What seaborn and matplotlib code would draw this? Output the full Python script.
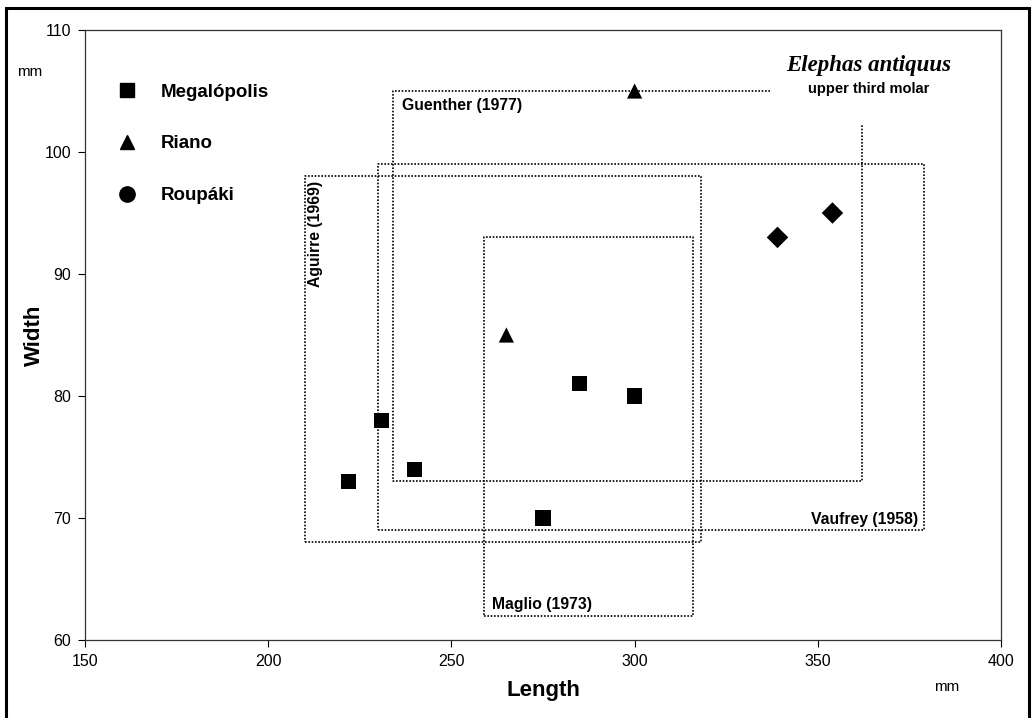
import numpy as np
import pandas as pd
import seaborn as sns
import matplotlib.pyplot as plt
from matplotlib.lines import Line2D
from matplotlib.patches import Rectangle

# 数据：各地点的第三上臼齿 长度 / 宽度 (mm)
sites = ['Megalópolis'] * 6 + ['Riano'] * 2 + ['Roupáki'] * 2
length = [222, 231, 240, 275, 285, 300, 265, 300, 339, 354]
width = [73, 78, 74, 70, 81, 80, 85, 105, 93, 95]

# 文献中的范围框 (长度范围, 宽度范围)
box_x = [(210, 318), (230, 379), (259, 316)]
box_y = [(68, 98), (69, 99), (62, 93)]

# Guenther (1977) 的框不闭合
guenther_x = [337, 234, 234, 362, 362]
guenther_y = [105, 105, 73, 73, 102.3]

x_ticks = [150, 200, 250, 300, 350, 400]
y_ticks = [60, 70, 80, 90, 100, 110]

df = pd.DataFrame({'site': sites, 'Length': length, 'Width': width})

sns.set_style('ticks')
plt.rcParams['font.family'] = ['Liberation Sans', 'DejaVu Sans']
plt.rcParams['text.color'] = 'black'
plt.rcParams['axes.labelcolor'] = 'black'
plt.rcParams['xtick.color'] = 'black'
plt.rcParams['ytick.color'] = 'black'

fig = plt.figure(figsize=(10.33, 7.18), dpi=100)
ax = fig.add_axes([85 / 1033, 1 - 640 / 718, 916 / 1033, 610 / 718])

sns.scatterplot(data=df, x='Length', y='Width', style='site',
                markers={'Megalópolis': 's', 'Riano': '^', 'Roupáki': 'D'},
                color='black', s=120, edgecolor='black', linewidth=0,
                legend=False, ax=ax, zorder=3)

dot = (0, (1, 1))
for (x0, x1), (y0, y1) in zip(box_x, box_y):
    ax.plot([x0, x1, x1, x0, x0], [y0, y0, y1, y1, y0],
            color='black', lw=1.2, linestyle=dot, zorder=2)
ax.plot(guenther_x, guenther_y, color='black', lw=1.2, linestyle=dot, zorder=2)

# 框的标签
lab = dict(fontsize=11.3, fontweight='bold', color='black')
ax.text(236.5, 103.8, 'Guenther (1977)', ha='left', va='center', **lab)
ax.text(212.8, 97.6, 'Aguirre (1969)', ha='center', va='top', rotation=90, **lab)
ax.text(261, 62.9, 'Maglio (1973)', ha='left', va='center', **lab)
ax.text(377.5, 69.9, 'Vaufrey (1958)', ha='right', va='center', **lab)

ax.text(364, 107.1, 'Elephas antiquus', ha='center', va='center',
        fontsize=16.5, fontweight='bold', fontstyle='italic',
        family=['Liberation Serif', 'DejaVu Serif'])
ax.text(364, 105.2, 'upper third molar', ha='center', va='center',
        fontsize=10.5, fontweight='bold')

# 图例
handles = [Line2D([], [], marker=m, color='black', linestyle='', markersize=ms)
           for m, ms in [('s', 10), ('^', 10), ('o', 11)]]
ax.legend(handles, ['Megalópolis', 'Riano', 'Roupáki'], loc='upper left',
          bbox_to_anchor=(0.0075, 0.94), frameon=False, labelspacing=1.85,
          handletextpad=0.8, prop={'weight': 'bold', 'size': 13.5})

ax.set_xlim(150, 400)
ax.set_ylim(60, 110)
ax.set_xticks(x_ticks)
ax.set_yticks(y_ticks)
ax.tick_params(labelsize=11.5, length=5, width=0.8, color='black', pad=5)
for s in ax.spines.values():
    s.set_color('#333333')
    s.set_linewidth(0.9)

ax.set_xlabel('Length', fontsize=16, fontweight='bold', labelpad=8)
ax.set_ylabel('Width', fontsize=16, fontweight='bold', labelpad=0)

fig.text(30 / 1033, 1 - 72 / 718, 'mm', fontsize=11, ha='center', va='center')
fig.text(947 / 1033, 1 - 687 / 718, 'mm', fontsize=11, ha='center', va='center')

# 外框
fig.patches.append(Rectangle((6 / 1033, -0.02), 1023 / 1033, 1.02 - 8 / 718,
                             transform=fig.transFigure, fill=False,
                             edgecolor='black', lw=2.2))

fig.savefig('out.png', dpi=100)
